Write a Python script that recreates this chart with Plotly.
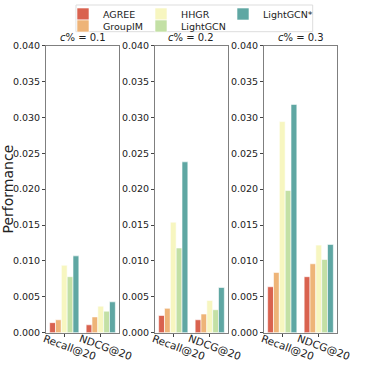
import plotly.graph_objects as go

# data
metrics = ["Recall@20", "NDCG@20"]
panel_titles = ["<i>c</i>% = 0.1", "<i>c</i>% = 0.2", "<i>c</i>% = 0.3"]
methods = ["AGREE", "GroupIM", "HHGR", "LightGCN", "LightGCN*"]

# values per panel, per method: [Recall@20, NDCG@20]
c01 = {
    "AGREE": [0.0014, 0.0011],
    "GroupIM": [0.0018, 0.0022],
    "HHGR": [0.0094, 0.0037],
    "LightGCN": [0.0078, 0.0030],
    "LightGCN*": [0.0107, 0.0043],
}
c02 = {
    "AGREE": [0.0024, 0.0018],
    "GroupIM": [0.0034, 0.0026],
    "HHGR": [0.0154, 0.0045],
    "LightGCN": [0.0118, 0.0032],
    "LightGCN*": [0.0238, 0.0063],
}
c03 = {
    "AGREE": [0.0064, 0.0078],
    "GroupIM": [0.0084, 0.0096],
    "HHGR": [0.0294, 0.0122],
    "LightGCN": [0.0198, 0.0102],
    "LightGCN*": [0.0318, 0.0123],
}
panels = [c01, c02, c03]

colors = {
    "AGREE": "#d9624f",
    "GroupIM": "#eeb478",
    "HHGR": "#f7f6c0",
    "LightGCN": "#c3e0a5",
    "LightGCN*": "#5fa7a3",
}

W = H = 374
FONT = "DejaVu Sans"
x_domains = [(46 / W, 119 / W), (155 / W, 228 / W), (264 / W, 337 / W)]
y_bottom = 1 - 332.7 / H
y_top = 1 - 45.5 / H

# matplotlib legend is 3 columns, column-major; one plotly legend per entry
# (col, row) -> pixel position of the legend box
legend_cols = [63, 141, 223]
legend_rows = [14, 26]
legend_cell = {
    "AGREE": (0, 0),
    "GroupIM": (0, 1),
    "HHGR": (1, 0),
    "LightGCN": (1, 1),
    "LightGCN*": (2, 0),
}

fig = go.Figure()

for i, data in enumerate(panels):
    xa = "x" if i == 0 else f"x{i + 1}"
    ya = "y" if i == 0 else f"y{i + 1}"
    for k, m in enumerate(methods):
        fig.add_trace(go.Bar(
            x=metrics,
            y=data[m],
            name=m,
            marker=dict(color=colors[m], line=dict(color="white", width=0.6)),
            xaxis=xa,
            yaxis=ya,
            showlegend=(i == 0),
            legend="legend" if k == 0 else f"legend{k + 1}",
        ))

axis_line = "#7f7f7f"
layout = dict(
    width=W,
    height=H,
    margin=dict(l=0, r=0, t=0, b=0, autoexpand=False),
    paper_bgcolor="white",
    plot_bgcolor="white",
    font=dict(family=FONT, size=9, color="#222"),
    barmode="group",
    bargap=0.2,
    bargroupgap=0,
)

for i in range(3):
    sfx = "" if i == 0 else str(i + 1)
    layout["xaxis" + sfx] = dict(
        domain=list(x_domains[i]),
        anchor="y" + sfx,
        type="category",
        range=[-0.5, 1.5],
        showticklabels=False,
        ticks="outside",
        ticklen=3,
        tickcolor="#444",
        showline=True,
        linecolor=axis_line,
        linewidth=1,
        mirror=True,
        showgrid=False,
        zeroline=False,
        automargin=False,
    )
    layout["yaxis" + sfx] = dict(
        domain=[y_bottom, y_top],
        anchor="x" + sfx,
        range=[0, 0.04],
        dtick=0.005,
        tickformat=".3f",
        ticks="outside",
        ticklen=3,
        tickcolor="#444",
        tickfont=dict(size=9.5, color="#222"),
        showline=True,
        linecolor=axis_line,
        linewidth=1,
        mirror=True,
        showgrid=False,
        zeroline=False,
        automargin=False,
    )

layout["yaxis"]["title"] = dict(text="Performance", font=dict(size=14, color="#222"), standoff=13)

for k, m in enumerate(methods):
    col, row = legend_cell[m]
    key = "legend" if k == 0 else f"legend{k + 1}"
    layout[key] = dict(
        orientation="h",
        xanchor="left",
        yanchor="middle",
        x=legend_cols[col] / W,
        y=1 - legend_rows[row] / H,
        bgcolor="rgba(0,0,0,0)",
        font=dict(size=9.5, color="#222"),
        itemwidth=30,
    )

fig.update_layout(**layout)

# legend frame
fig.add_shape(
    type="rect", xref="paper", yref="paper",
    x0=76 / W, x1=312.7 / W, y0=1 - 31.7 / H, y1=1 - 5 / H,
    line=dict(color="#dddddd", width=1), fillcolor="rgba(0,0,0,0)",
)

# panel titles and rotated category labels
for i in range(3):
    xa = "x" if i == 0 else f"x{i + 1}"
    fig.add_annotation(
        text=panel_titles[i], xref="paper", yref="paper",
        x=(x_domains[i][0] + x_domains[i][1]) / 2, y=y_top + 1 / H,
        xanchor="center", yanchor="bottom", showarrow=False,
        font=dict(size=10, color="#222"),
    )
    for m in metrics:
        fig.add_annotation(
            text=m, xref=xa, yref="paper", x=m, y=y_bottom + 3 / H,
            xanchor="center", yanchor="top", textangle=20, showarrow=False,
            xshift=5, font=dict(size=10.5, color="#222"),
        )

# drop the browser's default body margin so the figure sits at the page corner
fig.write_html(
    "out.html",
    config={"displayModeBar": False},
    post_script="document.body.style.margin = '0px';",
)
